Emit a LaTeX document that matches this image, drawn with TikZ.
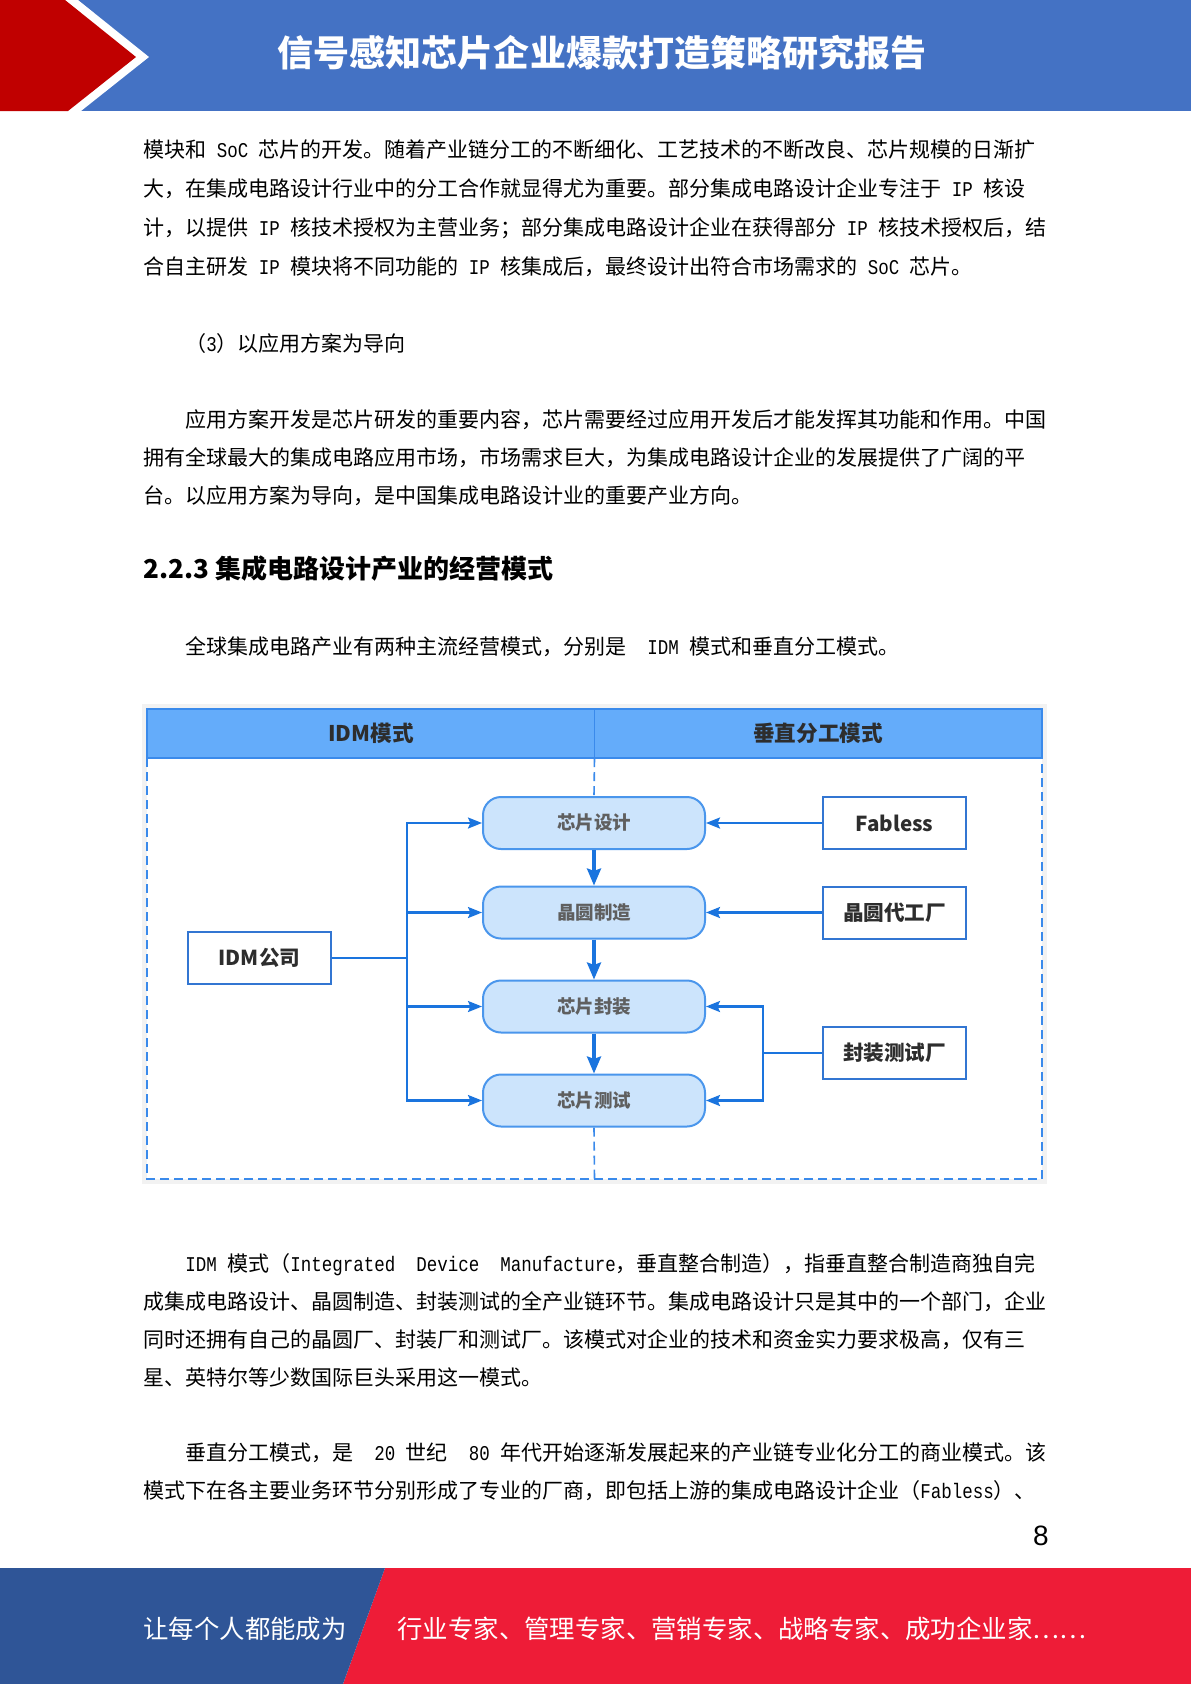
\documentclass[tikz,border=0pt]{standalone}
\usepackage{fontspec}
\setmainfont{Noto Sans CJK SC}
\newfontfamily\lat{Liberation Mono}[FakeStretch=0.8333]
\newfontfamily\numf{Liberation Sans}
\usetikzlibrary{arrows.meta}
\definecolor{hblue}{RGB}{68,114,196}
\definecolor{hred}{RGB}{192,0,0}
\definecolor{fblue}{RGB}{47,85,151}
\definecolor{fred}{RGB}{238,28,55}
\definecolor{bandfill}{RGB}{100,172,250}
\definecolor{frameblue}{RGB}{58,138,235}
\definecolor{pfill}{RGB}{204,228,252}
\definecolor{pborder}{RGB}{74,150,236}
\definecolor{conn}{RGB}{26,116,222}
\definecolor{wborder}{RGB}{50,118,210}
\definecolor{labgray}{RGB}{95,95,95}
\definecolor{labdark}{RGB}{45,45,45}
\begin{document}
\begin{tikzpicture}[x=0.5bp,y=-0.5bp,
  body/.style={anchor=base west,inner sep=0,font=\fontsize{10.5bp}{12bp}\selectfont,text=black},
  pbox/.style={draw=pborder,fill=pfill,line width=1bp,rounded corners=9bp,minimum width=111bp,minimum height=26bp,inner sep=0,font=\fontsize{9.25bp}{11bp}\selectfont\bfseries,text=labgray},
  wbox/.style={draw=wborder,fill=white,line width=1bp,minimum width=71.5bp,minimum height=26bp,inner sep=0,font=\fontsize{10.3bp}{12bp}\selectfont\bfseries,text=labdark},
  arr/.style={draw=conn,line width=1.1bp,-{Stealth[length=7bp,width=5.5bp,inset=1.2bp]}},
  darr/.style={draw=conn,line width=1.6bp,-{Stealth[length=8.5bp,width=7bp,inset=1.2bp]}},
  conn/.style={draw=conn,line width=1.1bp},
  dsh/.style={draw=frameblue,line width=0.8bp,dash pattern=on 4.5bp off 2.5bp},
  bandlabel/.style={inner sep=0,font=\fontsize{10.8bp}{12bp}\selectfont\bfseries,text=labdark}
]
\useasboundingbox (0,0) rectangle (1191,1684);
% ---------- header ----------
\fill[hblue] (0,0) rectangle (1191,111);
\fill[white] (0,0) -- (78,0) -- (149,57) -- (81,111) -- (0,111) -- cycle;
\fill[hred] (0,0) -- (65,0) -- (136,57) -- (68,111) -- (0,111) -- cycle;
\node[anchor=base,inner sep=0,text=white,font=\fontsize{18bp}{20bp}\selectfont\bfseries] (title) at (602,66) {信号感知芯片企业爆款打造策略研究报告};
% ---------- paragraph 1 ----------
\node[body] (a1) at (143,157) {模块和{\lat{} SoC }芯片的开发。随着产业链分工的不断细化、工艺技术的不断改良、芯片规模的日渐扩};
\node[body] (a2) at (143,196) {大，在集成电路设计行业中的分工合作就显得尤为重要。部分集成电路设计企业专注于{\lat{} IP }核设};
\node[body] (a3) at (143,235) {计，以提供{\lat{} IP }核技术授权为主营业务；部分集成电路设计企业在获得部分{\lat{} IP }核技术授权后，结};
\node[body] (a4) at (143,274) {合自主研发{\lat{} IP }模块将不同功能的{\lat{} IP }核集成后，最终设计出符合市场需求的{\lat{} SoC }芯片。};
\node[body] (s3) at (185,351) {（{\lat 3}）以应用方案为导向};
% ---------- paragraph 2 ----------
\node[body] (b1) at (185,427) {应用方案开发是芯片研发的重要内容，芯片需要经过应用开发后才能发挥其功能和作用。中国};
\node[body] (b2) at (143,465) {拥有全球最大的集成电路应用市场，市场需求巨大，为集成电路设计企业的发展提供了广阔的平};
\node[body] (b3) at (143,503) {台。以应用方案为导向，是中国集成电路设计业的重要产业方向。};
% ---------- heading ----------
\node[anchor=base west,inner sep=0,font=\fontsize{13bp}{15bp}\selectfont\bfseries] (h223) at (143,578) {2.2.3\ 集成电路设计产业的经营模式};
\node[body] (intro) at (185,654) {全球集成电路产业有两种主流经营模式，分别是{\lat\ \ IDM }模式和垂直分工模式。};
% ---------- diagram frame ----------
\fill[black!5] (142,704) rectangle (1047,1184);
\fill[white] (147,709) rectangle (1042,1179);
\fill[bandfill] (147,709) rectangle (1042,758);
\draw[frameblue,line width=1bp] (147,709) rectangle (1042,758);
\draw[frameblue,line width=0.8bp] (594.5,709) -- (594.5,758);
\node[bandlabel] (lidm) at (371,733) {IDM模式};
\node[bandlabel] (lvert) at (818,733) {垂直分工模式};
\draw[dsh] (147,758) -- (147,1179) -- (1042,1179) -- (1042,758);
% ---------- process boxes ----------
\node[pbox] (p1) at (594,823) {芯片设计};
\node[pbox] (p2) at (594,912.5) {晶圆制造};
\node[pbox] (p3) at (594,1006.5) {芯片封装};
\node[pbox] (p4) at (594,1100.5) {芯片测试};
\coordinate (dtop) at (594.5,758);
\coordinate (dbot) at (594.5,1179);
\draw[dsh] (dtop) -- (p1.north);
\draw[dsh] (p4.south) -- (dbot);
\draw[darr] (p1.south) -- (p2.north);
\draw[darr] (p2.south) -- (p3.north);
\draw[darr] (p3.south) -- (p4.north);
% ---------- left side ----------
\node[wbox] (idm) at (259.5,958) {IDM公司};
\coordinate (tr) at (407,958);
\draw[conn] (idm.east) -- (tr);
\draw[arr] (tr) |- (p1.west);
\draw[arr] (tr) |- (p4.west);
\draw[arr] (tr |- p2.west) -- (p2.west);
\draw[arr] (tr |- p3.west) -- (p3.west);
% ---------- right side ----------
\node[wbox] (fab) at (894.5,823) {Fabless};
\node[wbox] (wf) at (894.5,912.5) {晶圆代工厂};
\node[wbox] (pk) at (894.5,1053) {封装测试厂};
\draw[arr] (fab.west) -- (p1.east);
\draw[arr] (wf.west) -- (p2.east);
\coordinate (pt) at (763,1053);
\draw[conn] (pk.west) -- (pt);
\draw[arr] (pt) |- (p3.east);
\draw[arr] (pt) |- (p4.east);
% ---------- paragraph 3 ----------
\node[body] (c1) at (185,1271) {{\lat IDM }模式（{\lat Integrated\ \ Device\ \ Manufacture}，垂直整合制造），指垂直整合制造商独自完};
\node[body] (c2) at (143,1309) {成集成电路设计、晶圆制造、封装测试的全产业链环节。集成电路设计只是其中的一个部门，企业};
\node[body] (c3) at (143,1347) {同时还拥有自己的晶圆厂、封装厂和测试厂。该模式对企业的技术和资金实力要求极高，仅有三};
\node[body] (c4) at (143,1385) {星、英特尔等少数国际巨头采用这一模式。};
% ---------- paragraph 4 ----------
\node[body] (d1) at (185,1460) {垂直分工模式，是{\lat\ \ 20 }世纪{\lat\ \ 80 }年代开始逐渐发展起来的产业链专业化分工的商业模式。该};
\node[body] (d2) at (143,1498) {模式下在各主要业务环节分别形成了专业的厂商，即包括上游的集成电路设计企业（{\lat Fabless}）、};
% ---------- page number ----------
\node[anchor=base,inner sep=0,font=\numf\fontsize{14bp}{16bp}\selectfont] (pg) at (1041,1545) {8};
% ---------- footer ----------
\fill[fred] (385,1568) -- (1191,1568) -- (1191,1684) -- (343,1684) -- cycle;
\fill[fblue] (0,1568) -- (385,1568) -- (343,1684) -- (0,1684) -- cycle;
\node[anchor=base west,inner sep=0,text=white,font=\fontsize{12.7bp}{14bp}\selectfont] (f1) at (143,1638) {让每个人都能成为};
\node[anchor=base west,inner sep=0,text=white,font=\fontsize{12.7bp}{14bp}\selectfont] (f2) at (397,1638) {行业专家、管理专家、营销专家、战略专家、成功企业家……};
\end{tikzpicture}
\end{document}
